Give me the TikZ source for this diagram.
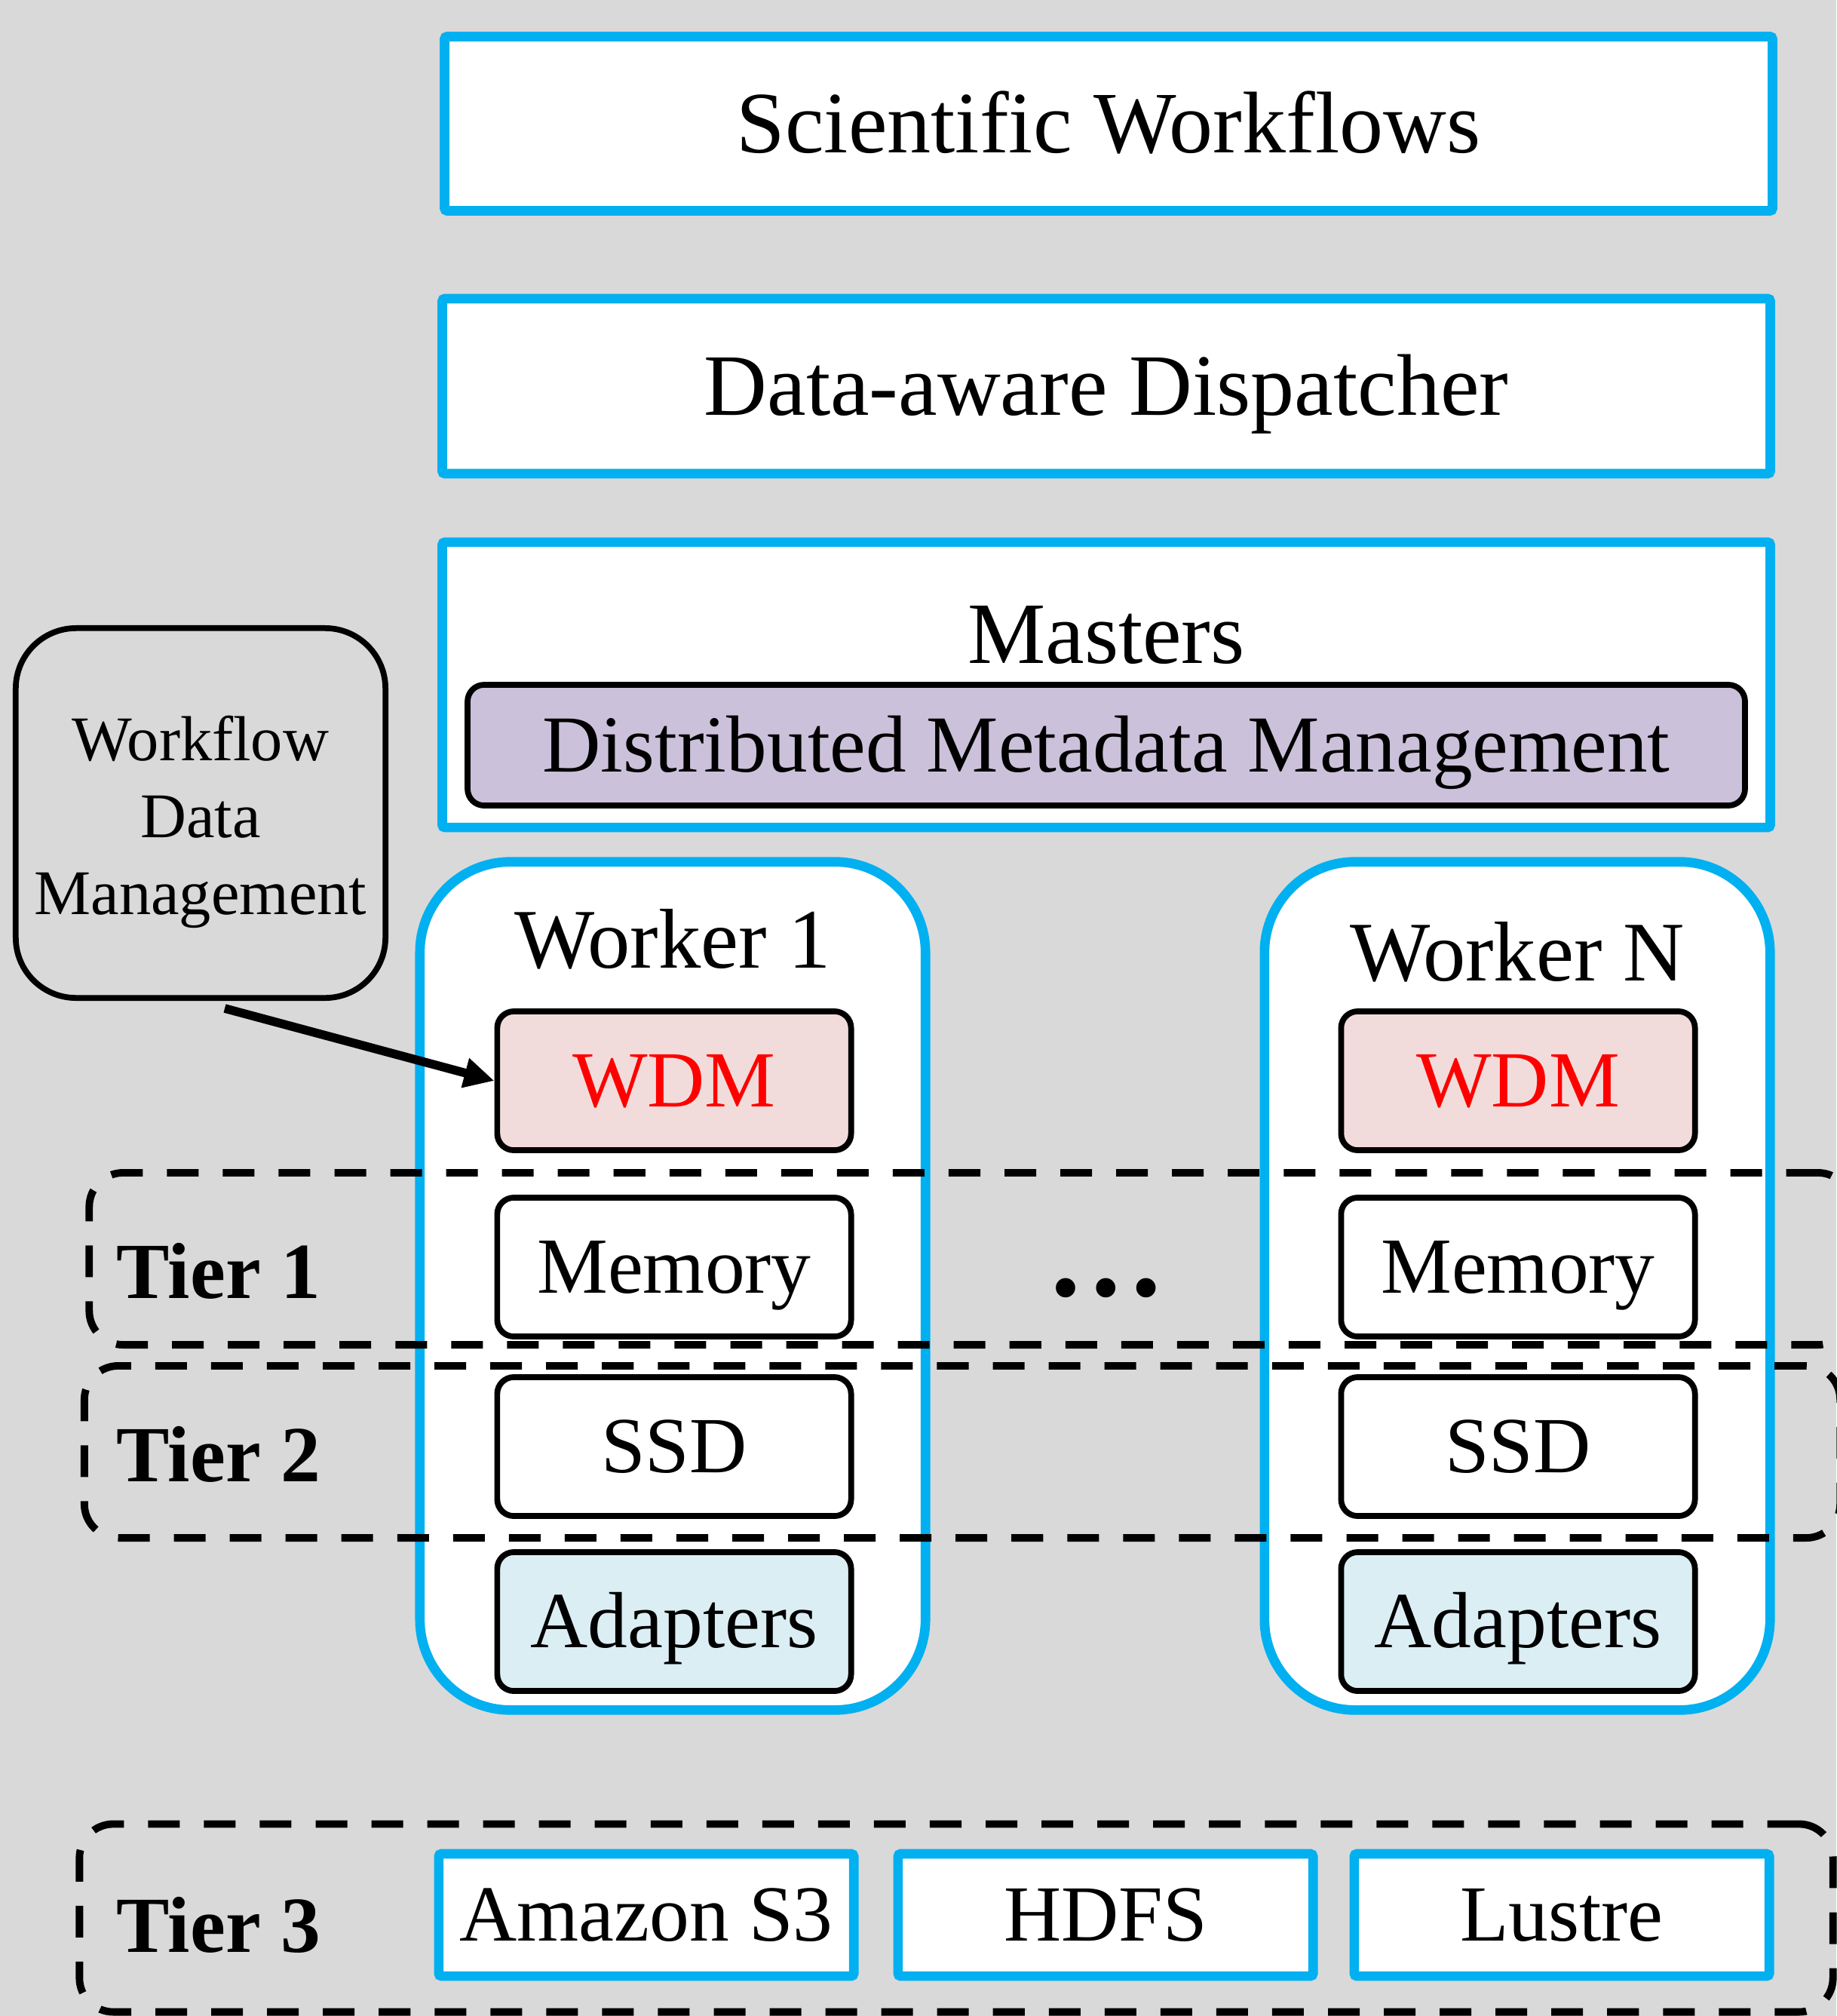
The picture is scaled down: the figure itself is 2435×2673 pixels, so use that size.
\documentclass[tikz,border=0pt]{standalone}
\usepackage{fontspec}
\setmainfont{Liberation Serif}
\usetikzlibrary{positioning,arrows.meta}

\definecolor{bgGray}{HTML}{D9D9D9}
\definecolor{skyBlue}{HTML}{00B0F0}
\definecolor{lilac}{HTML}{CCC1DA}
\definecolor{rose}{HTML}{F2DCDB}
\definecolor{paleBlue}{HTML}{DBEEF4}

\begin{document}
\begin{tikzpicture}[x=0.01cm, y=-0.01cm,
    layer/.style={rectangle, draw=skyBlue, line width=3.6pt, fill=white, rounded corners=1pt, minimum width=17.6cm, text height=21.8pt, text depth=0pt, font=\fontsize{33}{38}\selectfont},
    worker/.style={rectangle, draw=skyBlue, line width=3.6pt, fill=white, rounded corners=1.2cm, minimum width=6.7cm, minimum height=11.24cm},
    wlabel/.style={font=\fontsize{32}{38}\selectfont},
    unit/.style={rectangle, draw, line width=2.2pt, rounded corners=0.22cm, minimum width=4.69cm, minimum height=1.84cm, text height=19.8pt, text depth=0pt, font=\fontsize{30}{36}\selectfont},
    tier/.style={rectangle, draw, dash pattern=on 0.42cm off 0.32cm, line width=2.8pt, rounded corners=0.45cm},
    tierlabel/.style={anchor=west, font=\fontsize{30}{36}\selectfont\bfseries},
    store/.style={rectangle, draw=skyBlue, line width=3.6pt, fill=white, rounded corners=1pt, minimum width=5.5cm, minimum height=1.62cm, text height=19.8pt, text depth=0pt, font=\fontsize{30}{36}\selectfont},
    arrow/.style={-{Triangle[length=0.4cm,width=0.38cm]}, line width=3.3pt}
]
    \fill[bgGray] (0,0) rectangle (2435,2673);
    \useasboundingbox (0,0) rectangle (2435,2673);

    % upper layers
    \node[layer, minimum height=2.31cm] (sciwf) at (1470,164) {Scientific Workflows};
    \node[layer, minimum height=2.32cm] (dispatch) at (1467,512) {Data-aware Dispatcher};
    \node[layer, minimum height=3.78cm] (masters) at (1467,908) {};
    \node[font=\fontsize{33}{38}\selectfont] (masterstext) at (1467,842) {Masters};
    \node[unit, fill=lilac, minimum width=16.93cm, minimum height=1.6cm, text height=20.1pt, font=\fontsize{30.5}{36}\selectfont] (dmm) at (1467,988) {Distributed Metadata Management};

    \node[rectangle, draw, line width=2.2pt, fill=bgGray, rounded corners=0.8cm, minimum width=4.9cm, minimum height=4.9cm] (wfdm) at (266,1078) {};
    \node[align=center, font=\fontsize{24}{29}\selectfont] (wfdmtext) at (266,1090) {Workflow\\Data\\Management};

    % workers
    \node[worker] (worker1) at (892,1705) {};
    \node[worker] (workerN) at (2012,1705) {};
    \node[wlabel] (w1text) at (892,1245) {Worker 1};
    \node[wlabel] (wNtext) at (2012,1262) {Worker N};

    \node[unit, fill=rose, text=red] (wdm1) at (894,1433) {WDM};
    \node[unit, fill=white] (mem1) at (894,1680) {Memory};
    \node[unit, fill=white] (ssd1) at (894,1918) {SSD};
    \node[unit, fill=paleBlue] (adapt1) at (894,2150) {Adapters};

    \node[unit, fill=rose, text=red] (wdmN) at (2013,1433) {WDM};
    \node[unit, fill=white] (memN) at (2013,1680) {Memory};
    \node[unit, fill=white] (ssdN) at (2013,1918) {SSD};
    \node[unit, fill=paleBlue] (adaptN) at (2013,2150) {Adapters};

    \node[font=\fontsize{45}{50}\selectfont\bfseries, inner sep=0pt] (dots) at (1467,1708) {…};

    % tiers
    \node[tier, minimum width=23.36cm, minimum height=2.28cm] (tier1) at (1287,1669) {};
    \node[tier, minimum width=23.27cm, minimum height=2.28cm] (tier2) at (1276,1925) {};
    \node[tier, minimum width=23.24cm, minimum height=2.49cm] (tier3) at (1268,2543) {};
    \node[tierlabel] (t1text) at (142,1685) {Tier 1};
    \node[tierlabel] (t2text) at (142,1928) {Tier 2};
    \node[tierlabel] (t3text) at (142,2552) {Tier 3};

    \node[store] (s3) at (857,2539) {Amazon S3};
    \node[store] (hdfs) at (1466,2539) {HDFS};
    \node[store] (lustre) at (2071,2539) {Lustre};

    \draw[arrow] ([xshift=0.32cm,yshift=-0.1cm]wfdm.south) -- (wdm1.west);
\end{tikzpicture}
\end{document}
